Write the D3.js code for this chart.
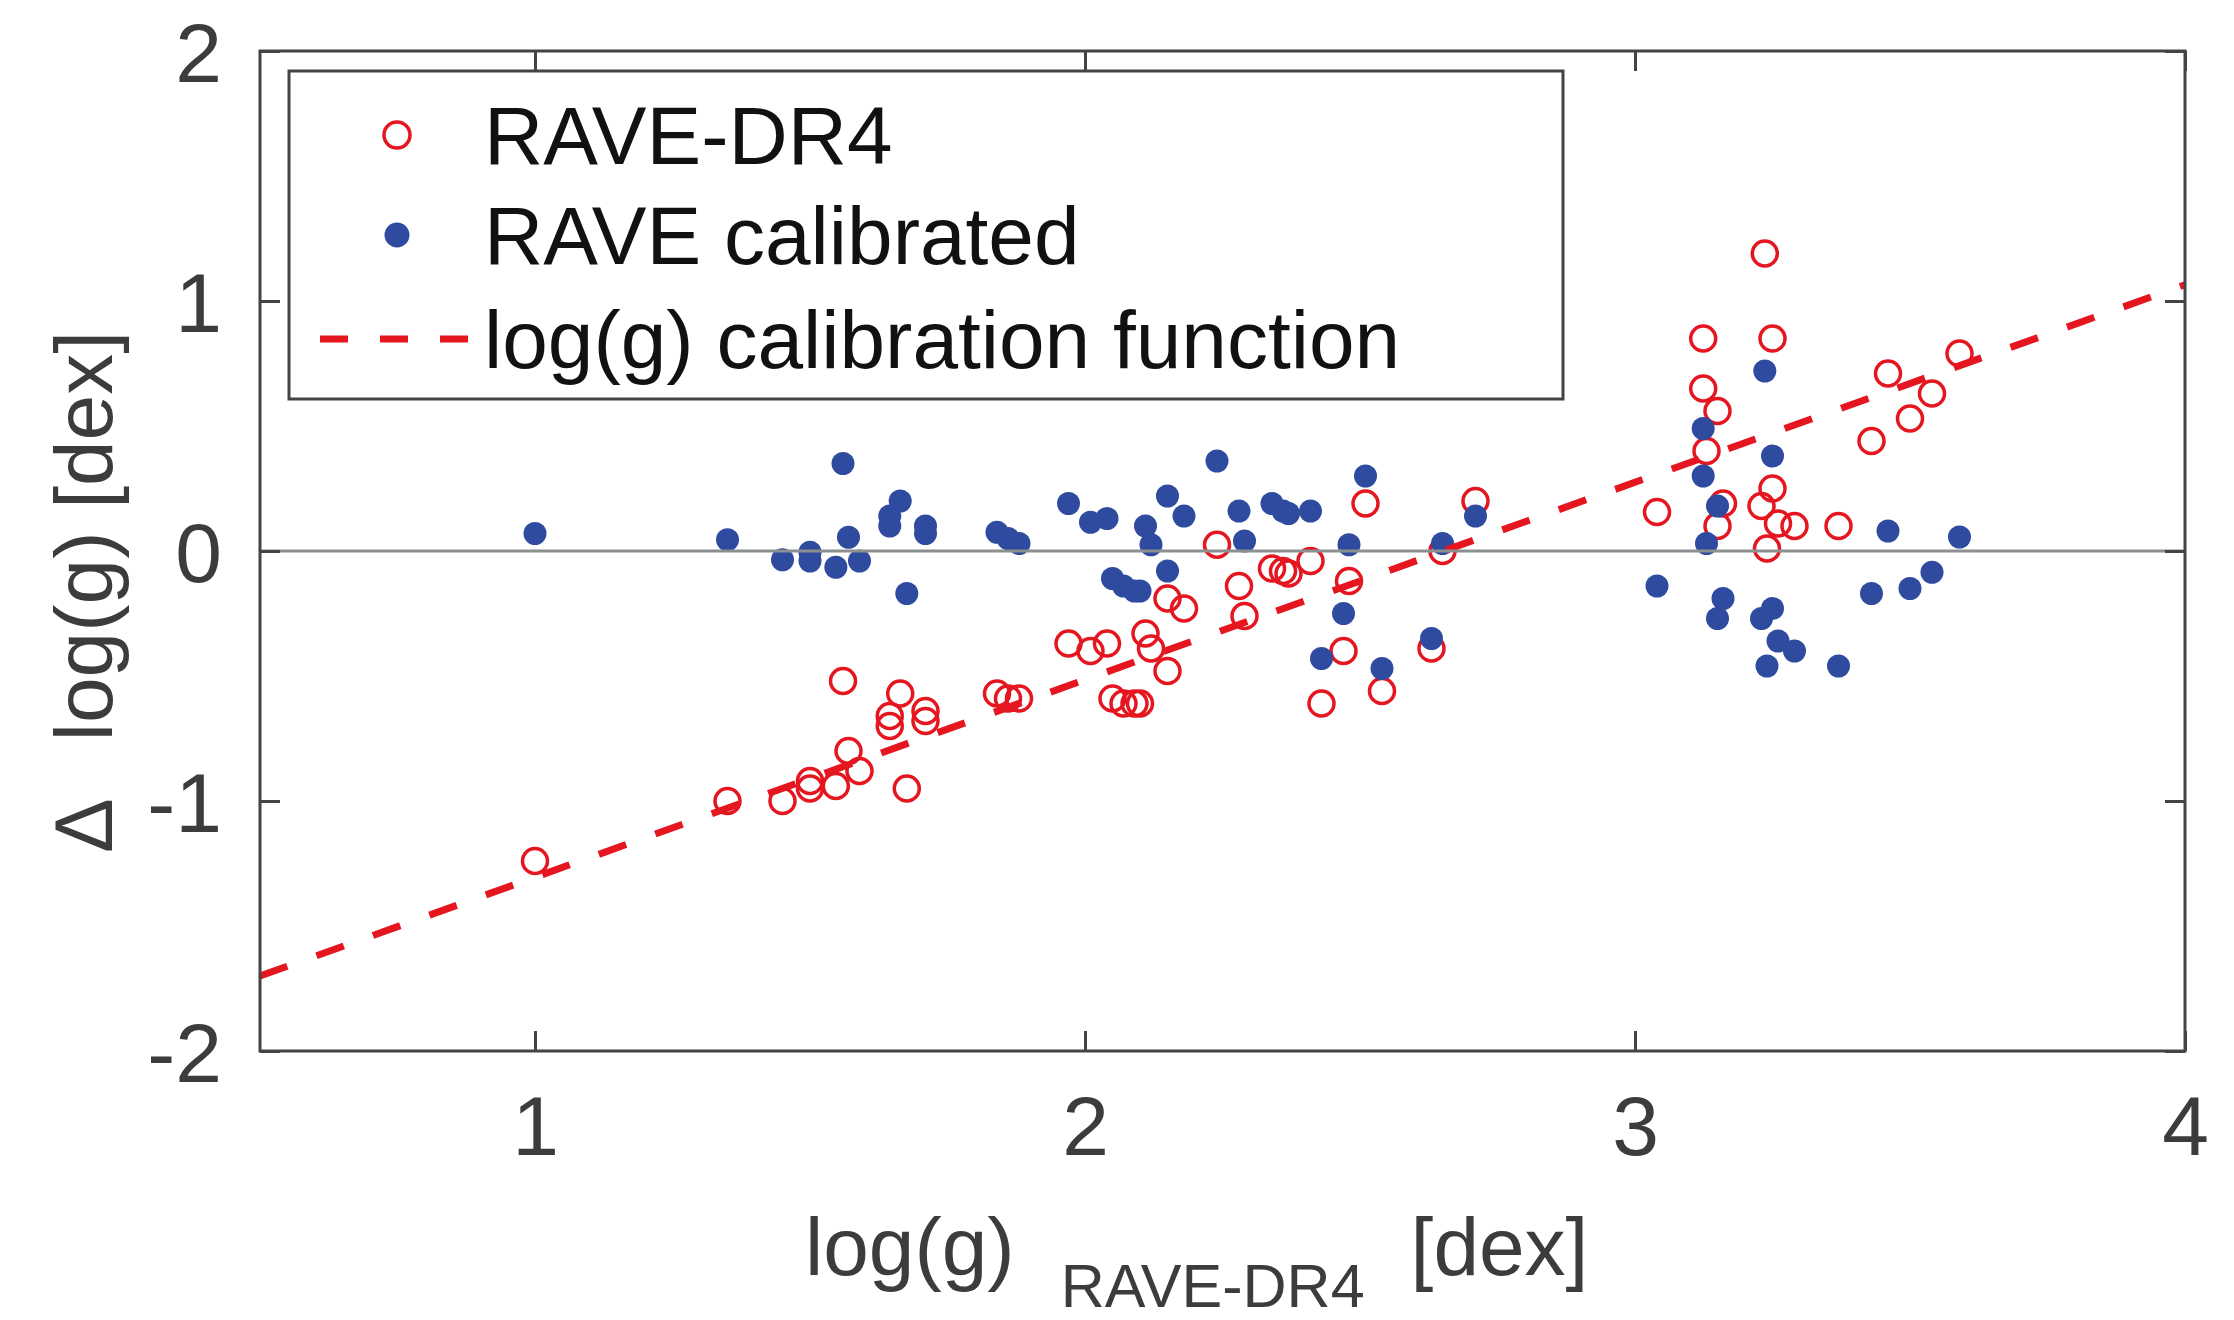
<!DOCTYPE html>
<html>
<head>
<meta charset="utf-8">
<script src="https://cdn.jsdelivr.net/npm/d3@7"></script>
<style>
    body { margin: 0; background: #fff; }
    text { font-family: "Liberation Sans", Arial, Helvetica, sans-serif; }
</style>
</head>
<body>
<div id="chart"></div>
<script>

// log(g) from RAVE-DR4, shared by both series
var loggDR4 = [1.00, 1.35, 1.45, 1.50, 1.50, 1.547, 1.56, 1.57, 1.59, 1.645, 1.645, 1.664, 1.676, 1.71, 1.71,
               1.84, 1.86, 1.88, 1.97, 2.01, 2.04, 2.05, 2.07, 2.09, 2.10, 2.11, 2.12, 2.15, 2.15, 2.18,
               2.24, 2.28, 2.29, 2.34, 2.36, 2.37, 2.41, 2.43, 2.47, 2.48, 2.51, 2.54, 2.63, 2.65, 2.71,
               3.04, 3.124, 3.124, 3.13, 3.15, 3.15, 3.16,
               3.236, 3.25, 3.25, 3.23, 3.26, 3.24, 3.29,
               3.37, 3.43, 3.46, 3.50, 3.54, 3.59];

// delta log(g) before calibration (open red circles)
var deltaDR4 = [-1.24, -1.00, -1.00, -0.92, -0.95, -0.94, -0.52, -0.80, -0.88, -0.66, -0.70, -0.57, -0.95, -0.64, -0.68,
                -0.57, -0.59, -0.59, -0.37, -0.40, -0.37, -0.59, -0.61, -0.61, -0.61, -0.33, -0.39, -0.19, -0.48, -0.23,
                0.025, -0.14, -0.26, -0.07, -0.08, -0.09, -0.04, -0.61, -0.40, -0.12, 0.19, -0.56, -0.39, 0.00, 0.20,
                0.156, 0.85, 0.65, 0.40, 0.56, 0.10, 0.19,
                1.19, 0.85, 0.25, 0.18, 0.11, 0.01, 0.10,
                0.10, 0.44, 0.71, 0.53, 0.63, 0.79];

// delta log(g) after calibration (filled blue dots)
var deltaCal = [0.07, 0.045, -0.035, -0.005, -0.04, -0.065, 0.35, 0.055, -0.04, 0.14, 0.10, 0.20, -0.17, 0.10, 0.07,
                0.075, 0.05, 0.03, 0.19, 0.115, 0.13, -0.11, -0.14, -0.16, -0.16, 0.10, 0.025, 0.22, -0.08, 0.14,
                0.36, 0.16, 0.04, 0.19, 0.16, 0.15, 0.16, -0.43, -0.25, 0.025, 0.30, -0.47, -0.35, 0.03, 0.14,
                -0.14, 0.49, 0.30, 0.03, -0.27, 0.18, -0.19,
                0.72, 0.38, -0.23, -0.27, -0.36, -0.46, -0.40,
                -0.46, -0.17, 0.08, -0.15, -0.085, 0.056];

// calibration function end points
var calibX = [0.5, 4.0];
var calibY = [-1.70, 1.065];

var xTicks = [1, 2, 3, 4];
var yTicks = [-2, -1, 0, 1, 2];
var legendLabels = ["RAVE-DR4", "RAVE calibrated", "log(g) calibration function"];

var red = "#e5161f";
var blue = "#2f4b9f";
var axisColor = "#444";

var width = 2234, height = 1320;
var plot = { left: 260, right: 2185, top: 51, bottom: 1051 };

var svg = d3.select("#chart")
  .append("svg")
  .attr("width", width)
  .attr("height", height);

svg.append("rect")
  .attr("width", width)
  .attr("height", height)
  .attr("fill", "#fff");

var x = d3.scaleLinear().domain([0.5, 4]).range([plot.left, plot.right]);
var y = d3.scaleLinear().domain([-2, 2]).range([plot.bottom, plot.top]);

function drawAxes() {
    var tickLen = 20;

    var bottom = svg.append("g")
      .attr("transform", "translate(0," + plot.bottom + ")")
      .call(d3.axisBottom(x).tickValues(xTicks).tickSize(-tickLen).tickPadding(0).tickFormat(d3.format("d")));
    var top = svg.append("g")
      .attr("transform", "translate(0," + plot.top + ")")
      .call(d3.axisTop(x).tickValues(xTicks).tickSize(-tickLen).tickFormat(""));
    var left = svg.append("g")
      .attr("transform", "translate(" + plot.left + ",0)")
      .call(d3.axisLeft(y).tickValues(yTicks).tickSize(-tickLen).tickFormat(d3.format("d")));
    var right = svg.append("g")
      .attr("transform", "translate(" + plot.right + ",0)")
      .call(d3.axisRight(y).tickValues(yTicks).tickSize(-tickLen).tickFormat(""));

    [bottom, top, left, right].forEach(function(g) {
        g.select(".domain").remove();
        g.selectAll(".tick line")
          .attr("stroke", axisColor)
          .attr("stroke-width", 3);
    });

    bottom.selectAll(".tick text")
      .attr("y", 104)
      .attr("dy", null)
      .attr("fill", "#3c3c3c")
      .attr("font-size", 84);

    left.selectAll(".tick text")
      .attr("x", -38)
      .attr("dy", "0.36em")
      .attr("fill", "#3c3c3c")
      .attr("font-size", 84)
      .text(function(d) { return d < 0 ? "-" + Math.abs(d) : d; });

    svg.append("rect")
      .attr("x", plot.left)
      .attr("y", plot.top)
      .attr("width", plot.right - plot.left)
      .attr("height", plot.bottom - plot.top)
      .attr("fill", "none")
      .attr("stroke", axisColor)
      .attr("stroke-width", 3);
}

function drawLabels() {
    var xl = svg.append("text")
      .attr("x", 805)
      .attr("y", 1275)
      .attr("fill", "#3c3c3c")
      .attr("font-size", 82);
    xl.append("tspan").text("log(g)");
    xl.append("tspan")
      .attr("dx", 46)
      .attr("dy", 32)
      .attr("font-size", 61)
      .text("RAVE-DR4");
    xl.append("tspan")
      .attr("dx", 46)
      .attr("dy", -32)
      .text("[dex]");

    var yl = svg.append("text")
      .attr("transform", "translate(112,592) rotate(-90)")
      .attr("text-anchor", "middle")
      .attr("fill", "#3c3c3c")
      .attr("font-size", 82);
    yl.append("tspan").text("\u0394");
    yl.append("tspan")
      .attr("dx", 57)
      .text("log(g) [dex]");
}

function drawData() {
    svg.append("clipPath")
      .attr("id", "plot-clip")
      .append("rect")
      .attr("x", plot.left)
      .attr("y", plot.top)
      .attr("width", plot.right - plot.left)
      .attr("height", plot.bottom - plot.top);

    var g = svg.append("g").attr("clip-path", "url(#plot-clip)");

    g.selectAll(".dr4")
      .data(loggDR4)
      .enter()
      .append("circle")
      .attr("class", "dr4")
      .attr("cx", function(d) { return x(d); })
      .attr("cy", function(d, i) { return y(deltaDR4[i]); })
      .attr("r", 12.5)
      .attr("fill", "none")
      .attr("stroke", red)
      .attr("stroke-width", 3.5);

    g.selectAll(".cal")
      .data(loggDR4)
      .enter()
      .append("circle")
      .attr("class", "cal")
      .attr("cx", function(d) { return x(d); })
      .attr("cy", function(d, i) { return y(deltaCal[i]); })
      .attr("r", 11.5)
      .attr("fill", blue);

    var line = d3.line()
      .x(function(d) { return x(d); })
      .y(function(d, i) { return y(calibY[i]); });

    g.append("path")
      .attr("d", line(calibX))
      .attr("fill", "none")
      .attr("stroke", red)
      .attr("stroke-width", 7)
      .attr("stroke-dasharray", "29 31");

    g.append("line")
      .attr("x1", plot.left)
      .attr("x2", plot.right)
      .attr("y1", y(0))
      .attr("y2", y(0))
      .attr("stroke", "#8c9090")
      .attr("stroke-width", 3);
}

function drawLegend() {
    var lg = svg.append("g");
    lg.append("rect")
      .attr("x", 289)
      .attr("y", 71)
      .attr("width", 1274)
      .attr("height", 328)
      .attr("fill", "#fff")
      .attr("stroke", axisColor)
      .attr("stroke-width", 3);

    var rows = [135, 235, 339];

    lg.append("circle")
      .attr("cx", 397)
      .attr("cy", rows[0])
      .attr("r", 13)
      .attr("fill", "none")
      .attr("stroke", red)
      .attr("stroke-width", 3.5);

    lg.append("circle")
      .attr("cx", 397)
      .attr("cy", rows[1])
      .attr("r", 12.5)
      .attr("fill", blue);

    lg.append("line")
      .attr("x1", 320)
      .attr("x2", 470)
      .attr("y1", rows[2])
      .attr("y2", rows[2])
      .attr("stroke", red)
      .attr("stroke-width", 7)
      .attr("stroke-dasharray", "28 32");

    lg.selectAll(".legend-text")
      .data(legendLabels)
      .enter()
      .append("text")
      .attr("class", "legend-text")
      .attr("x", 484)
      .attr("y", function(d, i) { return rows[i] + 29; })
      .attr("fill", "#111")
      .attr("font-size", 82)
      .text(function(d) { return d; });
}

drawData();
drawAxes();
drawLabels();
drawLegend();

</script>
</body>
</html>
